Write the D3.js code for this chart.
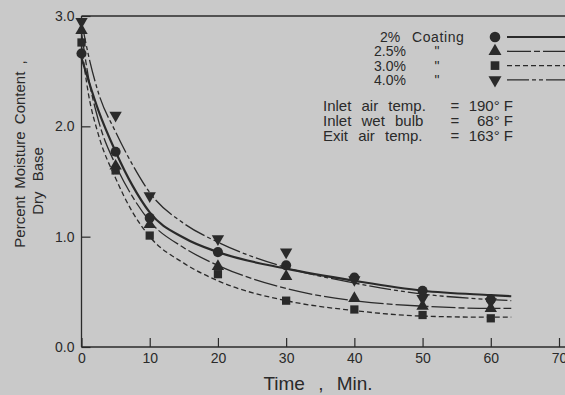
<!DOCTYPE html>
<html>
<head>
<meta charset="utf-8">
<script src="https://cdn.jsdelivr.net/npm/d3@7"></script>
<style>
  html, body { margin: 0; padding: 0; background: #c9c9c9; }
  svg { display: block; font-family: "Liberation Sans", Arial, sans-serif; }
</style>
</head>
<body>
<svg id="chart" width="565" height="395"></svg>
<script>
// measured points (min, dry-base moisture)
const times = [0, 5, 10, 20, 30, 40, 50, 60];
const coating2 = [2.66, 1.77, 1.17, 0.86, 0.74, 0.63, 0.51, 0.43];
const coating25 = [2.87, 1.64, 1.11, 0.73, 0.64, 0.44, 0.37, 0.35];
const coating30 = [2.76, 1.60, 1.01, 0.66, 0.42, 0.34, 0.29, 0.26];
const coating40 = [2.95, 2.10, 1.37, 0.98, 0.86, 0.61, 0.44, 0.41];

// hand-drawn curves
const fitTimes = [0, 1, 2.5, 5, 7.5, 10, 15, 20, 30, 40, 50, 60, 63];
const fit2 = [2.62, 2.42, 2.14, 1.77, 1.46, 1.22, 0.99, 0.86, 0.71, 0.60, 0.51, 0.47, 0.46];
const fit25 = [2.85, 2.45, 2.05, 1.65, 1.36, 1.14, 0.90, 0.74, 0.53, 0.42, 0.37, 0.35, 0.35];
const fit30 = [2.73, 2.30, 1.92, 1.53, 1.22, 1.00, 0.76, 0.60, 0.42, 0.33, 0.28, 0.27, 0.27];
const fit40 = [2.95, 2.65, 2.30, 1.95, 1.65, 1.40, 1.12, 0.95, 0.72, 0.58, 0.48, 0.43, 0.42];

const xTicks = [0, 10, 20, 30, 40, 50, 60, 70];
const yTicks = [0, 1, 2, 3];
const coatingLabels = ['2%', '2.5%', '3.0%', '4.0%'];
const conditionLabels = ['Inlet air temp.', 'Inlet wet bulb', 'Exit air temp.'];
const conditionValues = ['190° F', '68° F', '163° F'];

const W = 565, H = 395;
const ink = '#2a2a2a';
const svg = d3.select('#chart');

svg.append('rect').attr('width', W).attr('height', H).attr('fill', '#c9c9c9');

const x = d3.scaleLinear().domain([0, 70]).range([81.5, 559]);
const y = d3.scaleLinear().domain([0, 3]).range([347, 16]);

const series = [
  { pts: coating2, fit: fit2, symbol: d3.symbolCircle, size: 80, rot: 0, dash: null, width: 2.2 },
  { pts: coating25, fit: fit25, symbol: d3.symbolTriangle, size: 66, rot: 0, dash: '24,3,6,3', width: 1.3 },
  { pts: coating30, fit: fit30, symbol: d3.symbolSquare, size: 68, rot: 0, dash: '5,3', width: 1.3 },
  { pts: coating40, fit: fit40, symbol: d3.symbolTriangle, size: 66, rot: 180, dash: '22,3,4,3,4,3', width: 1.3 }
];

// axes
const xAxis = d3.axisBottom(x).tickValues(xTicks).tickSizeInner(-9).tickSizeOuter(0)
  .tickPadding(6).tickFormat(d3.format('d'));
const gx = svg.append('g').attr('transform', `translate(0,${y(0)})`).call(xAxis);
gx.select('.domain').remove();

const yAxis = d3.axisLeft(y).tickValues(yTicks).tickSizeInner(-9).tickSizeOuter(0)
  .tickPadding(7).tickFormat(d3.format('.1f'));
const gy = svg.append('g').attr('transform', `translate(${x(0)},0)`).call(yAxis);
gy.select('.domain').remove();

[gx, gy].forEach(g => {
  g.attr('font-family', null).attr('font-size', 14);
  g.selectAll('line').attr('stroke', ink).attr('stroke-width', 1.2);
  g.selectAll('text').attr('fill', ink);
});

// frame lines
const frame = svg.append('g').attr('stroke', ink).attr('stroke-width', 1.3);
frame.append('line').attr('x1', x(0)).attr('x2', x(0)).attr('y1', y(0)).attr('y2', y(3));
frame.append('line').attr('x1', x(0)).attr('x2', W).attr('y1', y(0)).attr('y2', y(0));
frame.append('line').attr('x1', x(0)).attr('x2', W).attr('y1', y(3)).attr('y2', y(3));

// curves
const line = d3.line().x(d => x(d[0])).y(d => y(d[1])).curve(d3.curveMonotoneX);
series.forEach(s => {
  svg.append('path')
    .datum(fitTimes.map((t, i) => [t, s.fit[i]]))
    .attr('d', line)
    .attr('fill', 'none')
    .attr('stroke', ink)
    .attr('stroke-width', s.width)
    .attr('stroke-dasharray', s.dash);
});

// markers
series.forEach(s => {
  svg.append('g').selectAll('path')
    .data(times.map((t, i) => [t, s.pts[i]]))
    .join('path')
    .attr('d', d3.symbol(s.symbol, s.size))
    .attr('transform', d => `translate(${x(d[0])},${y(d[1])}) rotate(${s.rot})`)
    .attr('fill', ink);
});

// legend
const legend = svg.append('g').attr('fill', ink).attr('font-size', 14);
series.forEach((s, i) => {
  const cy = 37 + i * 14.3;
  legend.append('text').attr('x', 390).attr('y', cy + 5).attr('text-anchor', 'middle').text(coatingLabels[i]);
  if (i === 0) {
    legend.append('text').attr('x', 412).attr('y', cy + 5).attr('letter-spacing', 0.6).text('Coating');
  } else {
    legend.append('text').attr('x', 437).attr('y', cy + 5).attr('text-anchor', 'middle').text('"');
  }
  legend.append('path')
    .attr('d', d3.symbol(s.symbol, s.size * 1.1))
    .attr('transform', `translate(495,${cy}) rotate(${s.rot})`);
  legend.append('line')
    .attr('x1', 507).attr('x2', W).attr('y1', cy).attr('y2', cy)
    .attr('stroke', ink).attr('stroke-width', s.width).attr('stroke-dasharray', s.dash);
});

conditionLabels.forEach((lab, i) => {
  const by = 111 + i * 15;
  legend.append('text').attr('x', 323).attr('y', by).attr('font-size', 15).attr('word-spacing', 6).text(lab);
  legend.append('text').attr('x', 455).attr('y', by).attr('font-size', 15).attr('text-anchor', 'middle').text('=');
  legend.append('text').attr('x', 513).attr('y', by).attr('font-size', 15).attr('text-anchor', 'end').text(conditionValues[i]);
});

// axis titles
svg.append('text').attr('x', 318).attr('y', 390).attr('text-anchor', 'middle')
  .attr('font-size', 19).attr('word-spacing', 8).attr('fill', ink).text('Time , Min.');

svg.append('text').attr('transform', 'translate(25,154) rotate(-90)').attr('text-anchor', 'middle')
  .attr('font-size', 15).attr('word-spacing', 3).attr('fill', ink).text('Percent Moisture Content ,');
svg.append('text').attr('transform', 'translate(43,181) rotate(-90)').attr('text-anchor', 'middle')
  .attr('font-size', 15).attr('word-spacing', 6).attr('fill', ink).text('Dry Base');
</script>
</body>
</html>
